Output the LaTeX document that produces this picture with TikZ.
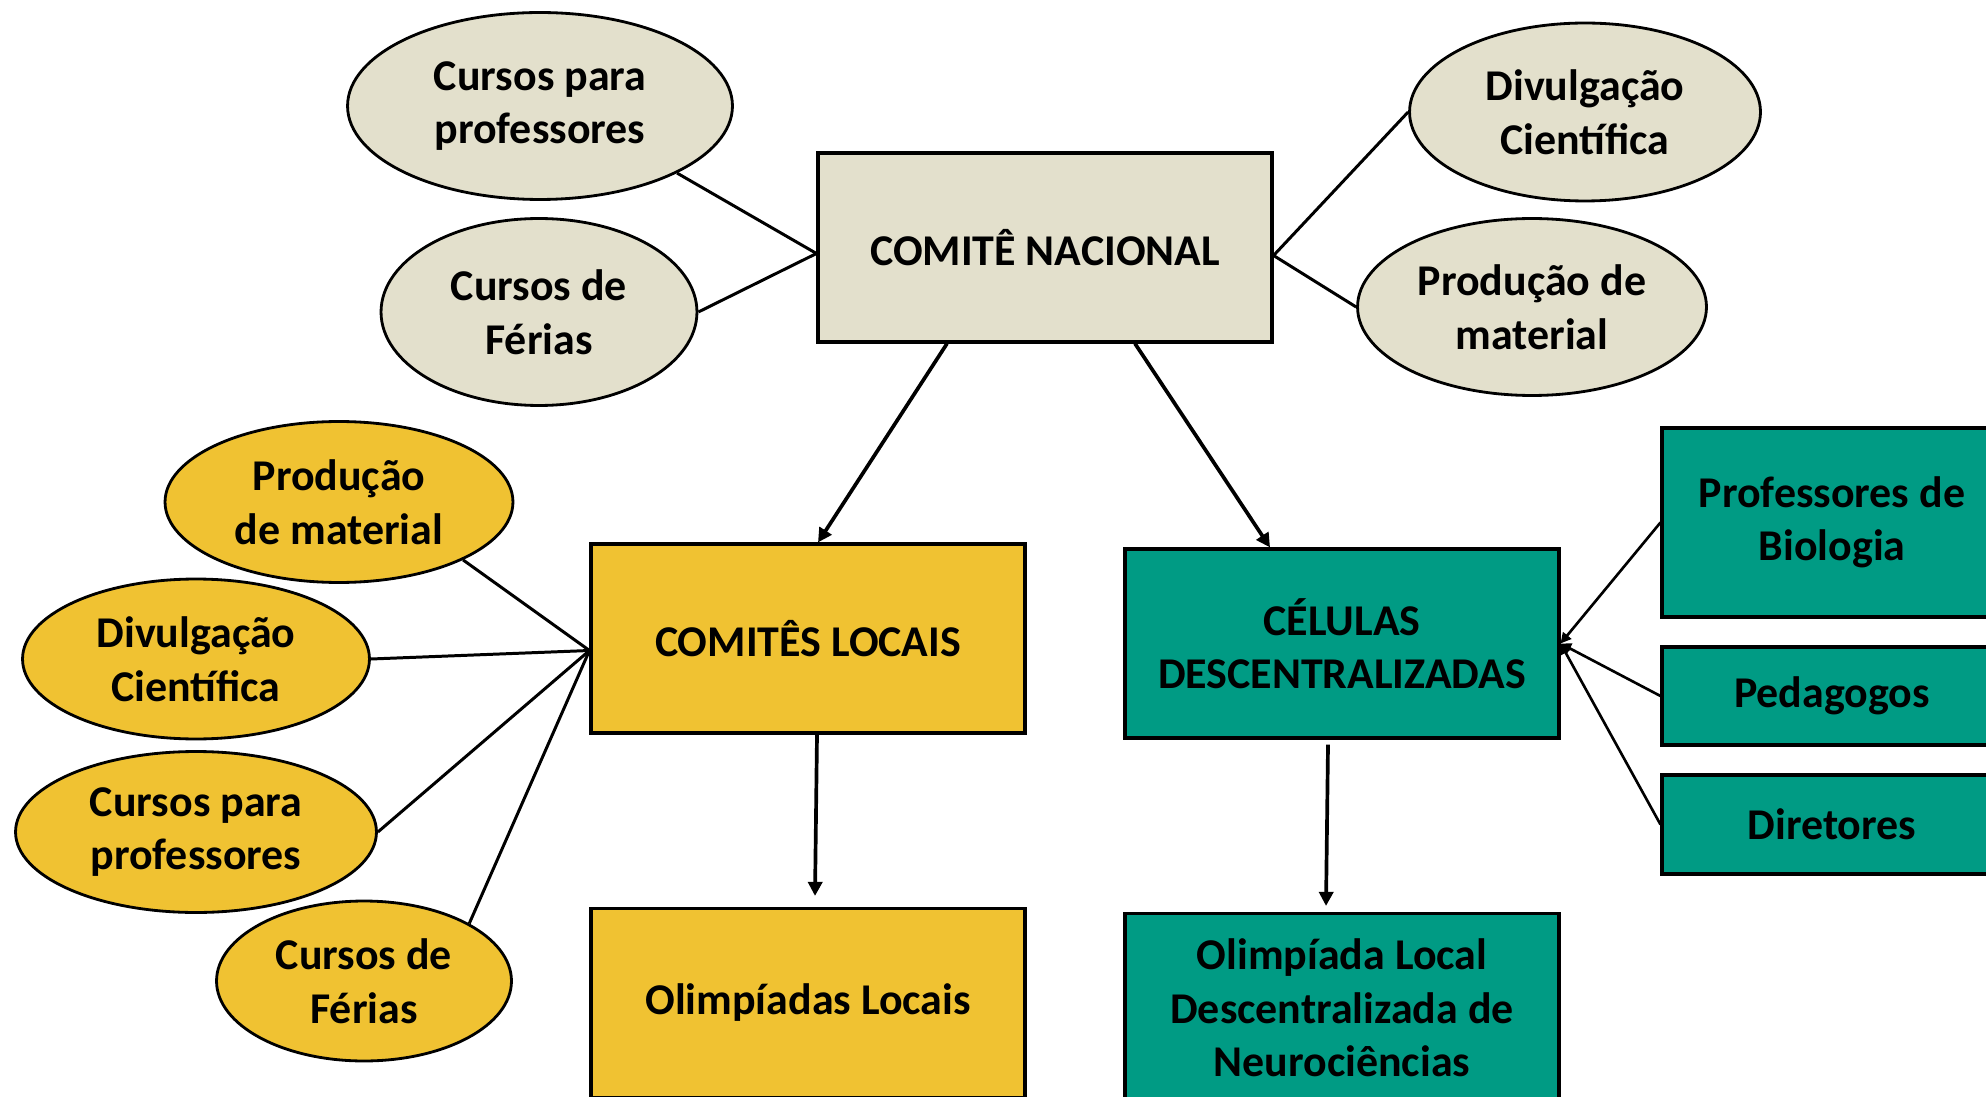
\documentclass[tikz,border=0pt]{standalone}
\usepackage{fontspec}
\setmainfont{Carlito}
\usetikzlibrary{arrows.meta,calc,shapes.geometric}
\definecolor{cinza}{HTML}{E3E0CC}
\definecolor{amarelo}{HTML}{F0C232}
\definecolor{verde}{HTML}{009B84}
\begin{document}
\begin{tikzpicture}[x=0.02cm,y=-0.02cm]
	\useasboundingbox(0,0)rectangle(1986,1097);
	\tikzset{base/.style={draw=black,align=center,inner sep=0pt,font=\fontsize{25}{30.5}\selectfont\bfseries},
	caixa/.style={base,rectangle,line width=1.8pt,minimum width=8.68cm,minimum height=3.78cm},
	bola/.style={base,ellipse,line width=1.6pt},
	fio/.style={line width=1.7pt},
	seta/.style={line width=2.1pt,-{Triangle[length=8pt,width=8pt]}},
	seta2/.style={line width=1.5pt,-{Triangle[length=6pt,width=6pt]}}}
	% caixas centrais
	\path(1045,247.5)node[caixa,fill=cinza,minimum width=9.08cm](N){COMITÊ NACIONAL};
	\path(808,638.5)node[caixa,fill=amarelo](L){COMITÊS LOCAIS}++(0,364.5)node[caixa,fill=amarelo](OL){Olimpíadas Locais};
	\path(1342,643.5)node[caixa,fill=verde](C){CÉLULAS\\DESCENTRALIZADAS}++(0,364.5)node[caixa,fill=verde](OD){Olimpíada Local\\Descentralizada de\\Neurociências};
	\path(1832,522.5)node[caixa,fill=verde,minimum width=6.8cm](PB){Professores de\\Biologia}
	(1832,696)node[caixa,fill=verde,minimum width=6.8cm,minimum height=1.96cm](PE){Pedagogos}
	(1832,824.5)node[caixa,fill=verde,minimum width=6.8cm,minimum height=1.98cm](DI){Diretores};
	% elipses
	\path(540,106)node[bola,fill=cinza,minimum width=7.7cm,minimum height=3.74cm](gCP){Cursos para\\professores}
	(539,312)node[bola,fill=cinza,minimum width=6.32cm,minimum height=3.74cm](gCF){Cursos de\\Férias}
	(1585,112)node[bola,fill=cinza,minimum width=7.02cm,minimum height=3.56cm](gDC){Divulgação\\Científica}
	(1532,307)node[bola,fill=cinza,minimum width=6.98cm,minimum height=3.54cm](gPM){Produção de\\material};
	\path(339,502)node[bola,fill=amarelo,minimum width=6.96cm,minimum height=3.22cm](yPM){Produção\\de material}
	(196,659)node[bola,fill=amarelo,minimum width=6.94cm,minimum height=3.2cm](yDC){Divulgação\\Científica}
	(196,832)node[bola,fill=amarelo,minimum width=7.22cm,minimum height=3.22cm](yCP){Cursos para\\professores}
	(364,981)node[bola,fill=amarelo,minimum width=5.9cm,minimum height=3.2cm](yCF){Cursos de\\Férias};
	\coordinate(Nw)at($(N.west)+(0,6)$);
	\coordinate(Ne)at($(N.east)+(0,8)$);
	\coordinate(Lw)at($(L.west)+(0,12)$);
	\foreach \x in {yPM.south east,yDC.east,yCP.east,yCF.north east}
	\draw[fio](\x)--(Lw);
	\draw[fio](gCP.south east)--(Nw);
	\draw[fio](gCF.east)--(Nw);
	\foreach \x in {gDC,gPM}
	\draw[fio](\x.west)--(Ne);
	\foreach \x in {PB,PE,DI}
	\draw[seta2](\x.west)--(C.east);
	\draw[seta]([xshift=-1.96cm]N.south)--([xshift=0.2cm]L.north);
	\draw[seta]([xshift=1.8cm]N.south)--([xshift=-1.44cm]C.north);
	\draw[seta]([xshift=0.18cm]L.south)--([xshift=0.14cm,yshift=0.22cm]OL.north);
	\draw[seta]([xshift=-0.28cm,yshift=-0.1cm]C.south)--([xshift=-0.32cm,yshift=0.12cm]OD.north);
\end{tikzpicture}
\end{document}
